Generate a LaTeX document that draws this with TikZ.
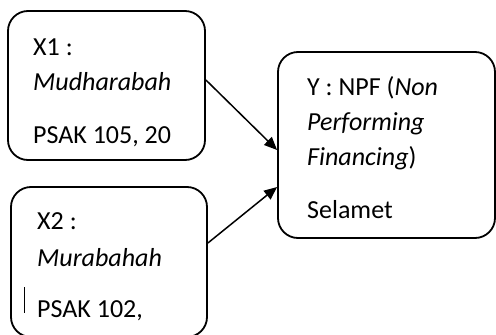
\documentclass[tikz,border=0pt]{standalone}
\usepackage{fontspec}
\setmainfont{Carlito}
\usetikzlibrary{arrows.meta}

\tikzset{
  varbox/.style={draw, line width=1.8pt, rounded corners=20pt},
  boxtext/.style={anchor=base west, align=left, inner sep=0pt,
    font=\fontsize{26}{35}\selectfont},
  link/.style={line width=1.5pt, -{Triangle[length=13pt,width=11pt]}}
}

\begin{document}
\begin{tikzpicture}[x=1pt,y=-1pt]
  \useasboundingbox (0,0) rectangle (496,335);
  % variable boxes
  \node[varbox, minimum width=197pt, minimum height=149pt] (mudharabah) at (106.5,85.5) {};
  \node[varbox, minimum width=196pt, minimum height=150pt] (murabahah) at (109,262) {};
  \node[varbox, minimum width=217pt, minimum height=186pt] (npf) at (386.5,145) {};
  % box contents (placed by the baseline of their last line)
  \node[boxtext] (mudharabah-text) at (33,143) {X1 :\\\textit{Mudharabah}\\[18pt]PSAK 105, 20};
  \node[boxtext] (murabahah-text) at (37,317) {X2 :\\[2pt]\textit{Murabahah}\\[16pt]PSAK 102,};
  \node[boxtext] (npf-text) at (307,218) {Y : NPF (\textit{Non}\\\textit{Performing}\\\textit{Financing})\\[18pt]Selamet};
  \draw[line width=0.6pt] (24,287) -- (24,313);
  % influence arrows
  \draw[link] ([yshift=5.5pt]mudharabah.east) -- ([yshift=-5pt]npf.west);
  \draw[link] ([yshift=19pt]murabahah.east) -- ([yshift=-42pt]npf.west);
\end{tikzpicture}
\end{document}
